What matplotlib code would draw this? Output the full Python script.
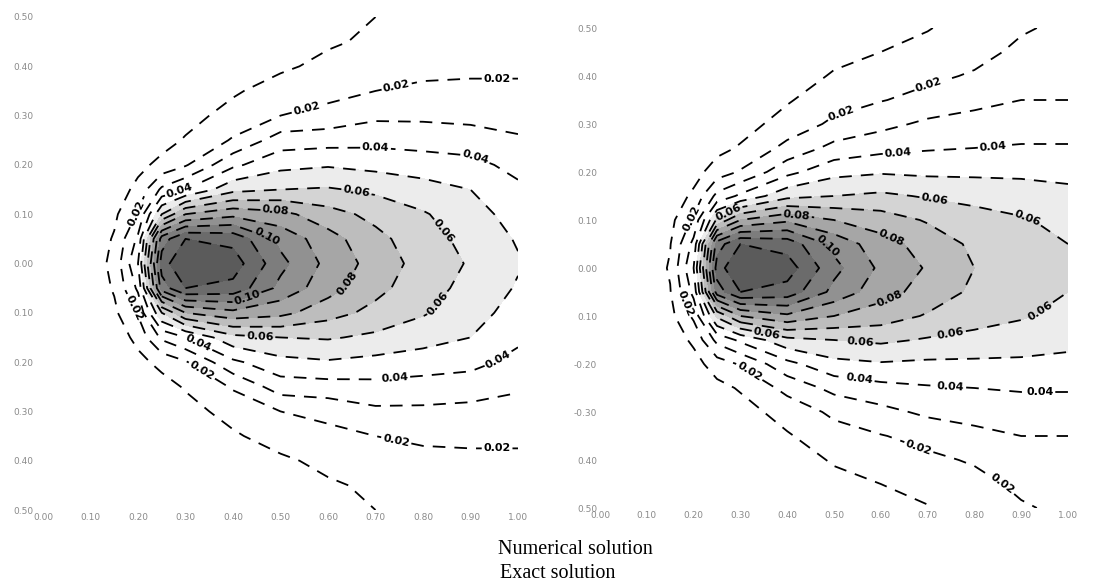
import numpy as np
import matplotlib.pyplot as plt

# grid of the field: x positions and upper-half y positions (mirrored below y=0)
x_vals = [0.0, 0.1, 0.15, 0.2, 0.25, 0.3, 0.4, 0.5, 0.6, 0.7, 0.8, 0.9, 1.0]
y_half = [0.0, 0.05, 0.1, 0.15, 0.2, 0.25, 0.3, 0.35, 0.4, 0.45, 0.5]

# numerical solution, one list per x column (values at y = 0 ... 0.5)
numerical = [
    [0.002, 0.002, 0.001, 0.001, 0.0005, 0, 0, 0, 0, 0, 0],
    [0.004, 0.0035, 0.0025, 0.0015, 0.001, 0.0005, 0, 0, 0, 0, 0],
    [0.013, 0.011, 0.008, 0.004, 0.002, 0.001, 0.0005, 0, 0, 0, 0],
    [0.040, 0.032, 0.021, 0.013, 0.007, 0.004, 0.002, 0.001, 0.0005, 0, 0],
    [0.115, 0.105, 0.060, 0.032, 0.013, 0.006, 0.003, 0.002, 0.001, 0.0005, 0],
    [0.130, 0.120, 0.080, 0.040, 0.019, 0.011, 0.006, 0.004, 0.002, 0.001, 0.001],
    [0.125, 0.117, 0.087, 0.057, 0.038, 0.021, 0.014, 0.0085, 0.005, 0.003, 0.002],
    [0.103, 0.097, 0.083, 0.060, 0.047, 0.035, 0.020, 0.015, 0.008, 0.005, 0.003],
    [0.087, 0.084, 0.074, 0.061, 0.049, 0.036, 0.023, 0.017, 0.013, 0.0085, 0.006],
    [0.076, 0.073, 0.067, 0.058, 0.047, 0.037, 0.028, 0.020, 0.015, 0.012, 0.010],
    [0.066, 0.064, 0.061, 0.054, 0.045, 0.036, 0.028, 0.022, 0.017, 0.014, 0.012],
    [0.059, 0.057, 0.054, 0.050, 0.043, 0.035, 0.027, 0.022, 0.018, 0.014, 0.012],
    [0.051, 0.049, 0.046, 0.042, 0.037, 0.031, 0.027, 0.022, 0.018, 0.015, 0.012],
]

# exact solution
exact = [
    [0.001, 0.001, 0.001, 0.0005, 0, 0, 0, 0, 0, 0, 0],
    [0.004, 0.0035, 0.0025, 0.0015, 0.001, 0.0005, 0, 0, 0, 0, 0],
    [0.011, 0.0095, 0.007, 0.004, 0.002, 0.001, 0.0005, 0, 0, 0, 0],
    [0.040, 0.033, 0.022, 0.012, 0.006, 0.003, 0.001, 0.0005, 0, 0, 0],
    [0.115, 0.105, 0.062, 0.033, 0.015, 0.007, 0.003, 0.002, 0.001, 0.0005, 0],
    [0.130, 0.120, 0.080, 0.042, 0.021, 0.011, 0.006, 0.004, 0.002, 0.001, 0.001],
    [0.125, 0.116, 0.088, 0.057, 0.037, 0.023, 0.014, 0.009, 0.005, 0.003, 0.002],
    [0.103, 0.097, 0.080, 0.060, 0.047, 0.033, 0.022, 0.016, 0.011, 0.007, 0.005],
    [0.088, 0.084, 0.075, 0.062, 0.049, 0.037, 0.027, 0.0195, 0.015, 0.010, 0.007],
    [0.079, 0.076, 0.069, 0.059, 0.048, 0.039, 0.032, 0.023, 0.018, 0.013, 0.0095],
    [0.070, 0.068, 0.064, 0.057, 0.048, 0.040, 0.034, 0.027, 0.021, 0.017, 0.014],
    [0.066, 0.064, 0.061, 0.055, 0.048, 0.041, 0.035, 0.030, 0.026, 0.022, 0.019],
    [0.063, 0.060, 0.057, 0.053, 0.047, 0.041, 0.035, 0.030, 0.027, 0.024, 0.022],
]

plain_levels = [0.01, 0.03, 0.05, 0.07, 0.09, 0.11, 0.12]
label_levels = [0.02, 0.04, 0.06, 0.08, 0.10]
fill_levels = [0.05, 0.06, 0.07, 0.08, 0.09, 0.10, 0.11, 0.12, 0.14]
fill_colors = ['#ececec', '#d4d4d4', '#bdbdbd', '#a6a6a6', '#919191',
               '#7d7d7d', '#6b6b6b', '#5b5b5b', '#4e4e4e']

xtick_labels = ['0.00', '0.10', '0.20', '0.30', '0.40', '0.50', '0.60', '0.70', '0.80', '0.90', '1.00']
ytick_left = ['0.50', '0.40', '0.30', '0.20', '0.10', '0.00', '0.10', '0.20', '0.30', '0.40', '0.50']
ytick_right = ['0.50', '0.40', '0.30', '0.20', '0.10', '0.00', '0.10', '-0.20', '-0.30', '0.40', '0.50']

# where the contour labels sit
labels_numerical = [
    (0.20, 0.10), (0.556, 0.31), (0.745, 0.357), (0.956, 0.38),
    (0.18, -0.095), (0.32, -0.24), (0.745, -0.353), (0.956, -0.373),
    (0.29, 0.14), (0.70, 0.233), (0.91, 0.215),
    (0.33, -0.156), (0.74, -0.223), (0.956, -0.19),
    (0.66, 0.146), (0.853, 0.073), (0.83, -0.08), (0.457, -0.146),
    (0.49, 0.107), (0.64, -0.04),
    (0.47, 0.053), (0.43, -0.07),
]
labels_exact = [
    (0.20, 0.10), (0.52, 0.31), (0.705, 0.374),
    (0.19, -0.07), (0.32, -0.215), (0.684, -0.366), (0.87, -0.435),
    (0.27, 0.124), (0.637, 0.24), (0.84, 0.254),
    (0.556, -0.218), (0.75, -0.24), (0.94, -0.25),
    (0.716, 0.149), (0.915, 0.107), (0.94, -0.088), (0.75, -0.139),
    (0.556, -0.155), (0.357, -0.134),
    (0.42, 0.11), (0.626, 0.069), (0.62, -0.065),
    (0.49, 0.048),
]


def full_field(cols):
    half = np.array(cols).T
    z = np.vstack([half[:0:-1], half])
    y = np.concatenate([-np.array(y_half)[:0:-1], y_half])
    return np.array(x_vals), y, z


def draw(ax, cols, label_pos, yticklabels):
    x, y, z = full_field(cols)
    ax.contourf(x, y, z, levels=fill_levels, colors=fill_colors, extend='max')
    cs_plain = ax.contour(x, y, z, levels=plain_levels, colors='black', linewidths=1.3)
    cs_plain.set_linestyle((0, (7, 5)))
    cs = ax.contour(x, y, z, levels=label_levels, colors='black', linewidths=1.3)
    cs.set_linestyle((0, (7, 5)))
    texts = ax.clabel(cs, fmt='%.2f', fontsize=8, inline=True,
                      inline_spacing=3, manual=label_pos)
    for t in texts:
        t.set_fontweight('bold')
    ax.set_xlim(0, 1)
    ax.set_ylim(-0.5, 0.5)
    ax.set_xticks(np.linspace(0, 1, 11))
    ax.set_xticklabels(xtick_labels)
    ax.set_yticks(np.linspace(0.5, -0.5, 11))
    ax.set_yticklabels(yticklabels)
    ax.tick_params(length=0, labelsize=6.5, labelcolor='#8a8a8a', pad=2)
    for s in ax.spines.values():
        s.set_visible(False)


fig = plt.figure(figsize=(10.95, 5.83), dpi=100)
ax1 = fig.add_axes([43 / 1095, 1 - 510 / 583, 475 / 1095, 493 / 583])
ax2 = fig.add_axes([600 / 1095, 1 - 508 / 583, 468 / 1095, 480 / 583])
draw(ax1, numerical, labels_numerical, ytick_left)
draw(ax2, exact, labels_exact, ytick_right)
ax1.tick_params(axis='y', pad=7)

fig.text(498 / 1095, 1 - 549 / 583, 'Numerical solution', ha='left', va='center',
         family='Liberation Serif', fontsize=14.5)
fig.text(500 / 1095, 1 - 574 / 583, 'Exact solution', ha='left', va='center',
         family='Liberation Serif', fontsize=14.5)

fig.savefig('out.png', dpi=100)
